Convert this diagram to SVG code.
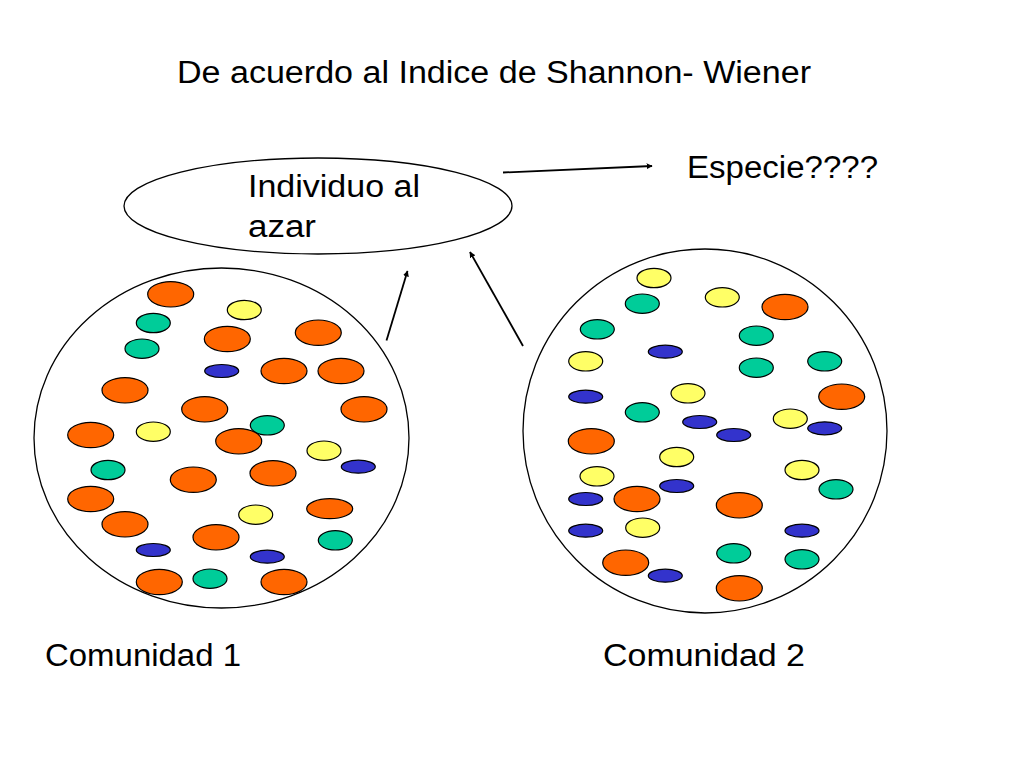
<svg xmlns="http://www.w3.org/2000/svg" width="1024" height="768" viewBox="0 0 1024 768">
<defs>
<style>
.t{font-family:"Liberation Sans",Arial,sans-serif;font-size:31px;fill:#000}
.big{fill:#fff;stroke:#000;stroke-width:1.3}
.o{fill:#FF6600;stroke:#000;stroke-width:1.2}
.y{fill:#FFFF66;stroke:#000;stroke-width:1.2}
.g{fill:#00CC99;stroke:#000;stroke-width:1.2}
.b{fill:#3333CC;stroke:#000;stroke-width:1.2}
.c{stroke:#000;stroke-width:1.8;fill:none;marker-end:url(#ah)}
</style>
<marker id="ah" viewBox="0 0 10 10" refX="9" refY="5" markerWidth="6" markerHeight="6" markerUnits="userSpaceOnUse" orient="auto"><path d="M0,0 L10,5 L0,10 z" fill="#000"/></marker>
<marker id="ah2" viewBox="0 0 10 10" refX="9" refY="5" markerWidth="7" markerHeight="7" orient="auto"><path d="M0,0 L10,5 L0,10 z" fill="#000"/></marker>
</defs>
<rect width="1024" height="768" fill="#fff"/>
<text class="t" x="177" y="83" textLength="634" lengthAdjust="spacingAndGlyphs">De acuerdo al Indice de Shannon- Wiener</text>

<g id="individuo">
<ellipse class="big" cx="318" cy="206" rx="194" ry="48"/>
<text class="t" x="248" y="197" textLength="172" lengthAdjust="spacingAndGlyphs">Individuo al</text>
<text class="t" x="248" y="237" textLength="68" lengthAdjust="spacingAndGlyphs">azar</text>
</g>

<g id="especie">
<text class="t" x="687" y="178" textLength="191" lengthAdjust="spacingAndGlyphs">Especie????</text>
</g>

<g id="comunidad1">
<ellipse class="big" cx="221.5" cy="438" rx="187.5" ry="170"/>
<ellipse class="o" cx="170.7" cy="294.3" rx="23" ry="12.7"/>
<ellipse class="y" cx="244.3" cy="310" rx="17" ry="9.7"/>
<ellipse class="g" cx="153.3" cy="323" rx="17" ry="9.7"/>
<ellipse class="o" cx="227.3" cy="339" rx="23" ry="12.7"/>
<ellipse class="o" cx="318.3" cy="332.7" rx="23" ry="12.7"/>
<ellipse class="g" cx="142" cy="348.7" rx="17" ry="9.7"/>
<ellipse class="b" cx="221.7" cy="371" rx="17" ry="6.5"/>
<ellipse class="o" cx="284" cy="371" rx="23" ry="12.7"/>
<ellipse class="o" cx="341" cy="371" rx="23" ry="12.7"/>
<ellipse class="o" cx="125" cy="390.3" rx="23" ry="12.7"/>
<ellipse class="o" cx="204.7" cy="409.3" rx="23" ry="12.7"/>
<ellipse class="o" cx="364" cy="409.3" rx="23" ry="12.7"/>
<ellipse class="g" cx="267.3" cy="425.3" rx="17" ry="9.7"/>
<ellipse class="o" cx="90.7" cy="435" rx="23" ry="12.7"/>
<ellipse class="y" cx="153.3" cy="431.7" rx="17" ry="9.7"/>
<ellipse class="o" cx="238.7" cy="441.3" rx="23" ry="12.7"/>
<ellipse class="y" cx="324" cy="450.7" rx="17" ry="9.7"/>
<ellipse class="b" cx="358.3" cy="466.7" rx="17" ry="6.5"/>
<ellipse class="g" cx="108" cy="470" rx="17" ry="9.7"/>
<ellipse class="o" cx="193.3" cy="479.7" rx="23" ry="12.7"/>
<ellipse class="o" cx="273" cy="473.3" rx="23" ry="12.7"/>
<ellipse class="o" cx="90.7" cy="499" rx="23" ry="12.7"/>
<ellipse class="y" cx="255.7" cy="514.7" rx="17" ry="9.7"/>
<ellipse class="o" cx="329.7" cy="508.7" rx="23" ry="10"/>
<ellipse class="o" cx="125" cy="524.3" rx="23" ry="12.7"/>
<ellipse class="o" cx="216" cy="537.3" rx="23" ry="12.7"/>
<ellipse class="g" cx="335.3" cy="540.3" rx="17" ry="9.7"/>
<ellipse class="b" cx="153.3" cy="550" rx="17" ry="6.5"/>
<ellipse class="b" cx="267.3" cy="556.7" rx="17" ry="6.5"/>
<ellipse class="o" cx="159.3" cy="582" rx="23" ry="12.7"/>
<ellipse class="g" cx="210" cy="578.7" rx="17" ry="9.7"/>
<ellipse class="o" cx="284" cy="582" rx="23" ry="12.7"/>
<text class="t" x="45" y="666" textLength="196" lengthAdjust="spacingAndGlyphs">Comunidad 1</text>
</g>

<g id="comunidad2">
<ellipse class="big" cx="705" cy="431" rx="182" ry="182"/>
<ellipse class="y" cx="654" cy="278" rx="17" ry="9.7"/>
<ellipse class="g" cx="642.3" cy="303.7" rx="17" ry="9.7"/>
<ellipse class="y" cx="722.3" cy="297.3" rx="17" ry="9.7"/>
<ellipse class="o" cx="785" cy="307" rx="23" ry="12.7"/>
<ellipse class="g" cx="597.3" cy="329.3" rx="17" ry="9.7"/>
<ellipse class="g" cx="756.3" cy="335.7" rx="17" ry="9.7"/>
<ellipse class="b" cx="665.3" cy="351.7" rx="17" ry="6.5"/>
<ellipse class="y" cx="585.7" cy="361.3" rx="17" ry="9.7"/>
<ellipse class="g" cx="756.3" cy="367.7" rx="17" ry="9.7"/>
<ellipse class="g" cx="824.7" cy="361.3" rx="17" ry="9.7"/>
<ellipse class="b" cx="585.7" cy="396.7" rx="17" ry="6.5"/>
<ellipse class="y" cx="688" cy="393.3" rx="17" ry="9.7"/>
<ellipse class="o" cx="841.7" cy="396.7" rx="23" ry="12.7"/>
<ellipse class="g" cx="642.3" cy="412.3" rx="17" ry="9.7"/>
<ellipse class="b" cx="699.7" cy="422" rx="17" ry="6.5"/>
<ellipse class="y" cx="790.3" cy="418.7" rx="17" ry="9.7"/>
<ellipse class="b" cx="824.7" cy="428.3" rx="17" ry="6.5"/>
<ellipse class="b" cx="733.7" cy="435" rx="17" ry="6.5"/>
<ellipse class="o" cx="591.3" cy="441.3" rx="23" ry="12.7"/>
<ellipse class="y" cx="676.7" cy="457" rx="17" ry="9.7"/>
<ellipse class="y" cx="802" cy="470" rx="17" ry="9.7"/>
<ellipse class="g" cx="836" cy="489.3" rx="17" ry="9.7"/>
<ellipse class="y" cx="597" cy="476.3" rx="17" ry="9.7"/>
<ellipse class="b" cx="676.7" cy="486" rx="17" ry="6.5"/>
<ellipse class="b" cx="585.7" cy="499" rx="17" ry="6.5"/>
<ellipse class="o" cx="637" cy="499" rx="23" ry="12.7"/>
<ellipse class="o" cx="739.3" cy="505.3" rx="23" ry="12.7"/>
<ellipse class="b" cx="585.7" cy="530.7" rx="17" ry="6.5"/>
<ellipse class="y" cx="642.7" cy="527.7" rx="17" ry="9.7"/>
<ellipse class="b" cx="802" cy="530.7" rx="17" ry="6.5"/>
<ellipse class="o" cx="625.7" cy="562.7" rx="23" ry="12.7"/>
<ellipse class="b" cx="665.3" cy="575.7" rx="17" ry="6.5"/>
<ellipse class="g" cx="733.7" cy="553.3" rx="17" ry="9.7"/>
<ellipse class="g" cx="802" cy="559.3" rx="17" ry="9.7"/>
<ellipse class="o" cx="739.3" cy="588.3" rx="23" ry="12.7"/>
<text class="t" x="603" y="666" textLength="202" lengthAdjust="spacingAndGlyphs">Comunidad 2</text>
</g>

<g id="connectors">
<line class="c" x1="503" y1="172.5" x2="652" y2="166"/>
<line class="c" x1="386.5" y1="340.5" x2="407.5" y2="271"/>
<line class="c" x1="523" y1="346" x2="470" y2="252"/>
</g>
</svg>
